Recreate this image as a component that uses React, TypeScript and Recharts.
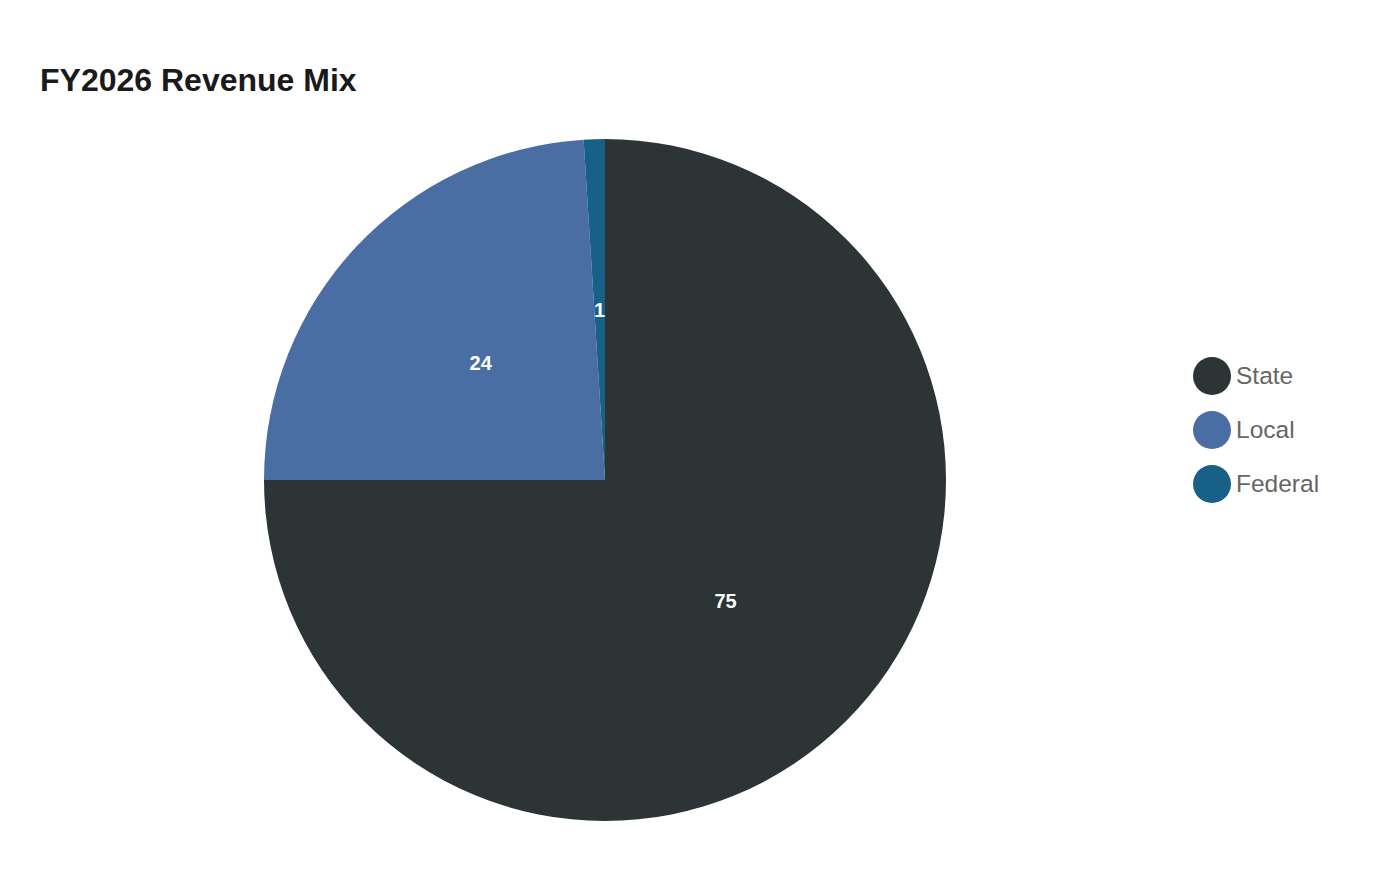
import React from 'react';
import { PieChart, Pie, Cell, Legend } from 'recharts';

const categories = ['State', 'Local', 'Federal'];
const shares = [75, 24, 1];
const colors = ['#2d3436', '#4a6ea3', '#176087'];

const data = categories.map((name, i) => ({ name, value: shares[i] }));

const RAD = Math.PI / 180;

const renderLabel = ({ cx, cy, midAngle, outerRadius, value }: any) => {
  const r = outerRadius * 0.5;
  const x = cx + r * Math.cos(-midAngle * RAD);
  const y = cy + r * Math.sin(-midAngle * RAD);
  return (
    <text
      x={x}
      y={y}
      fill="#ffffff"
      textAnchor="middle"
      dominantBaseline="central"
      fontSize={20}
      fontWeight="bold"
      fontFamily="'Liberation Sans', Arial, sans-serif"
    >
      {value}
    </text>
  );
};

const LegendContent = () => (
  <div style={{ fontFamily: "'Liberation Sans', Arial, sans-serif" }}>
    {categories.map((name, i) => (
      <div key={name} style={{ display: 'flex', alignItems: 'center', height: 54 }}>
        <span
          style={{
            display: 'inline-block',
            width: 38,
            height: 38,
            borderRadius: '50%',
            background: colors[i],
            marginRight: 5,
          }}
        />
        <span style={{ fontSize: 24.5, color: '#666666' }}>{name}</span>
      </div>
    ))}
  </div>
);

export default function App() {
  return (
    <div style={{ position: 'absolute', left: 0, top: 0, width: 1400, height: 880, background: '#ffffff' }}>
      <div
        style={{
          position: 'absolute',
          left: 40,
          top: 64,
          fontSize: 32,
          lineHeight: '32px',
          fontWeight: 'bold',
          color: '#1a1a1a',
          fontFamily: "'Liberation Sans', Arial, sans-serif",
          zIndex: 2,
        }}
      >
        FY2026 Revenue Mix
      </div>
      <PieChart width={1400} height={880} margin={{ top: 0, right: 0, bottom: 0, left: 0 }}>
        <Pie
          data={data}
          dataKey="value"
          nameKey="name"
          cx={605}
          cy={480}
          outerRadius={341}
          startAngle={90}
          endAngle={-270}
          stroke="none"
          label={renderLabel}
          labelLine={false}
          isAnimationActive={false}
        >
          {data.map((d, i) => (
            <Cell key={d.name} fill={colors[i]} />
          ))}
        </Pie>
        <Legend
          content={<LegendContent />}
          wrapperStyle={{ position: 'absolute', left: 1193, top: 349, width: 200 }}
        />
      </PieChart>
    </div>
  );
}
